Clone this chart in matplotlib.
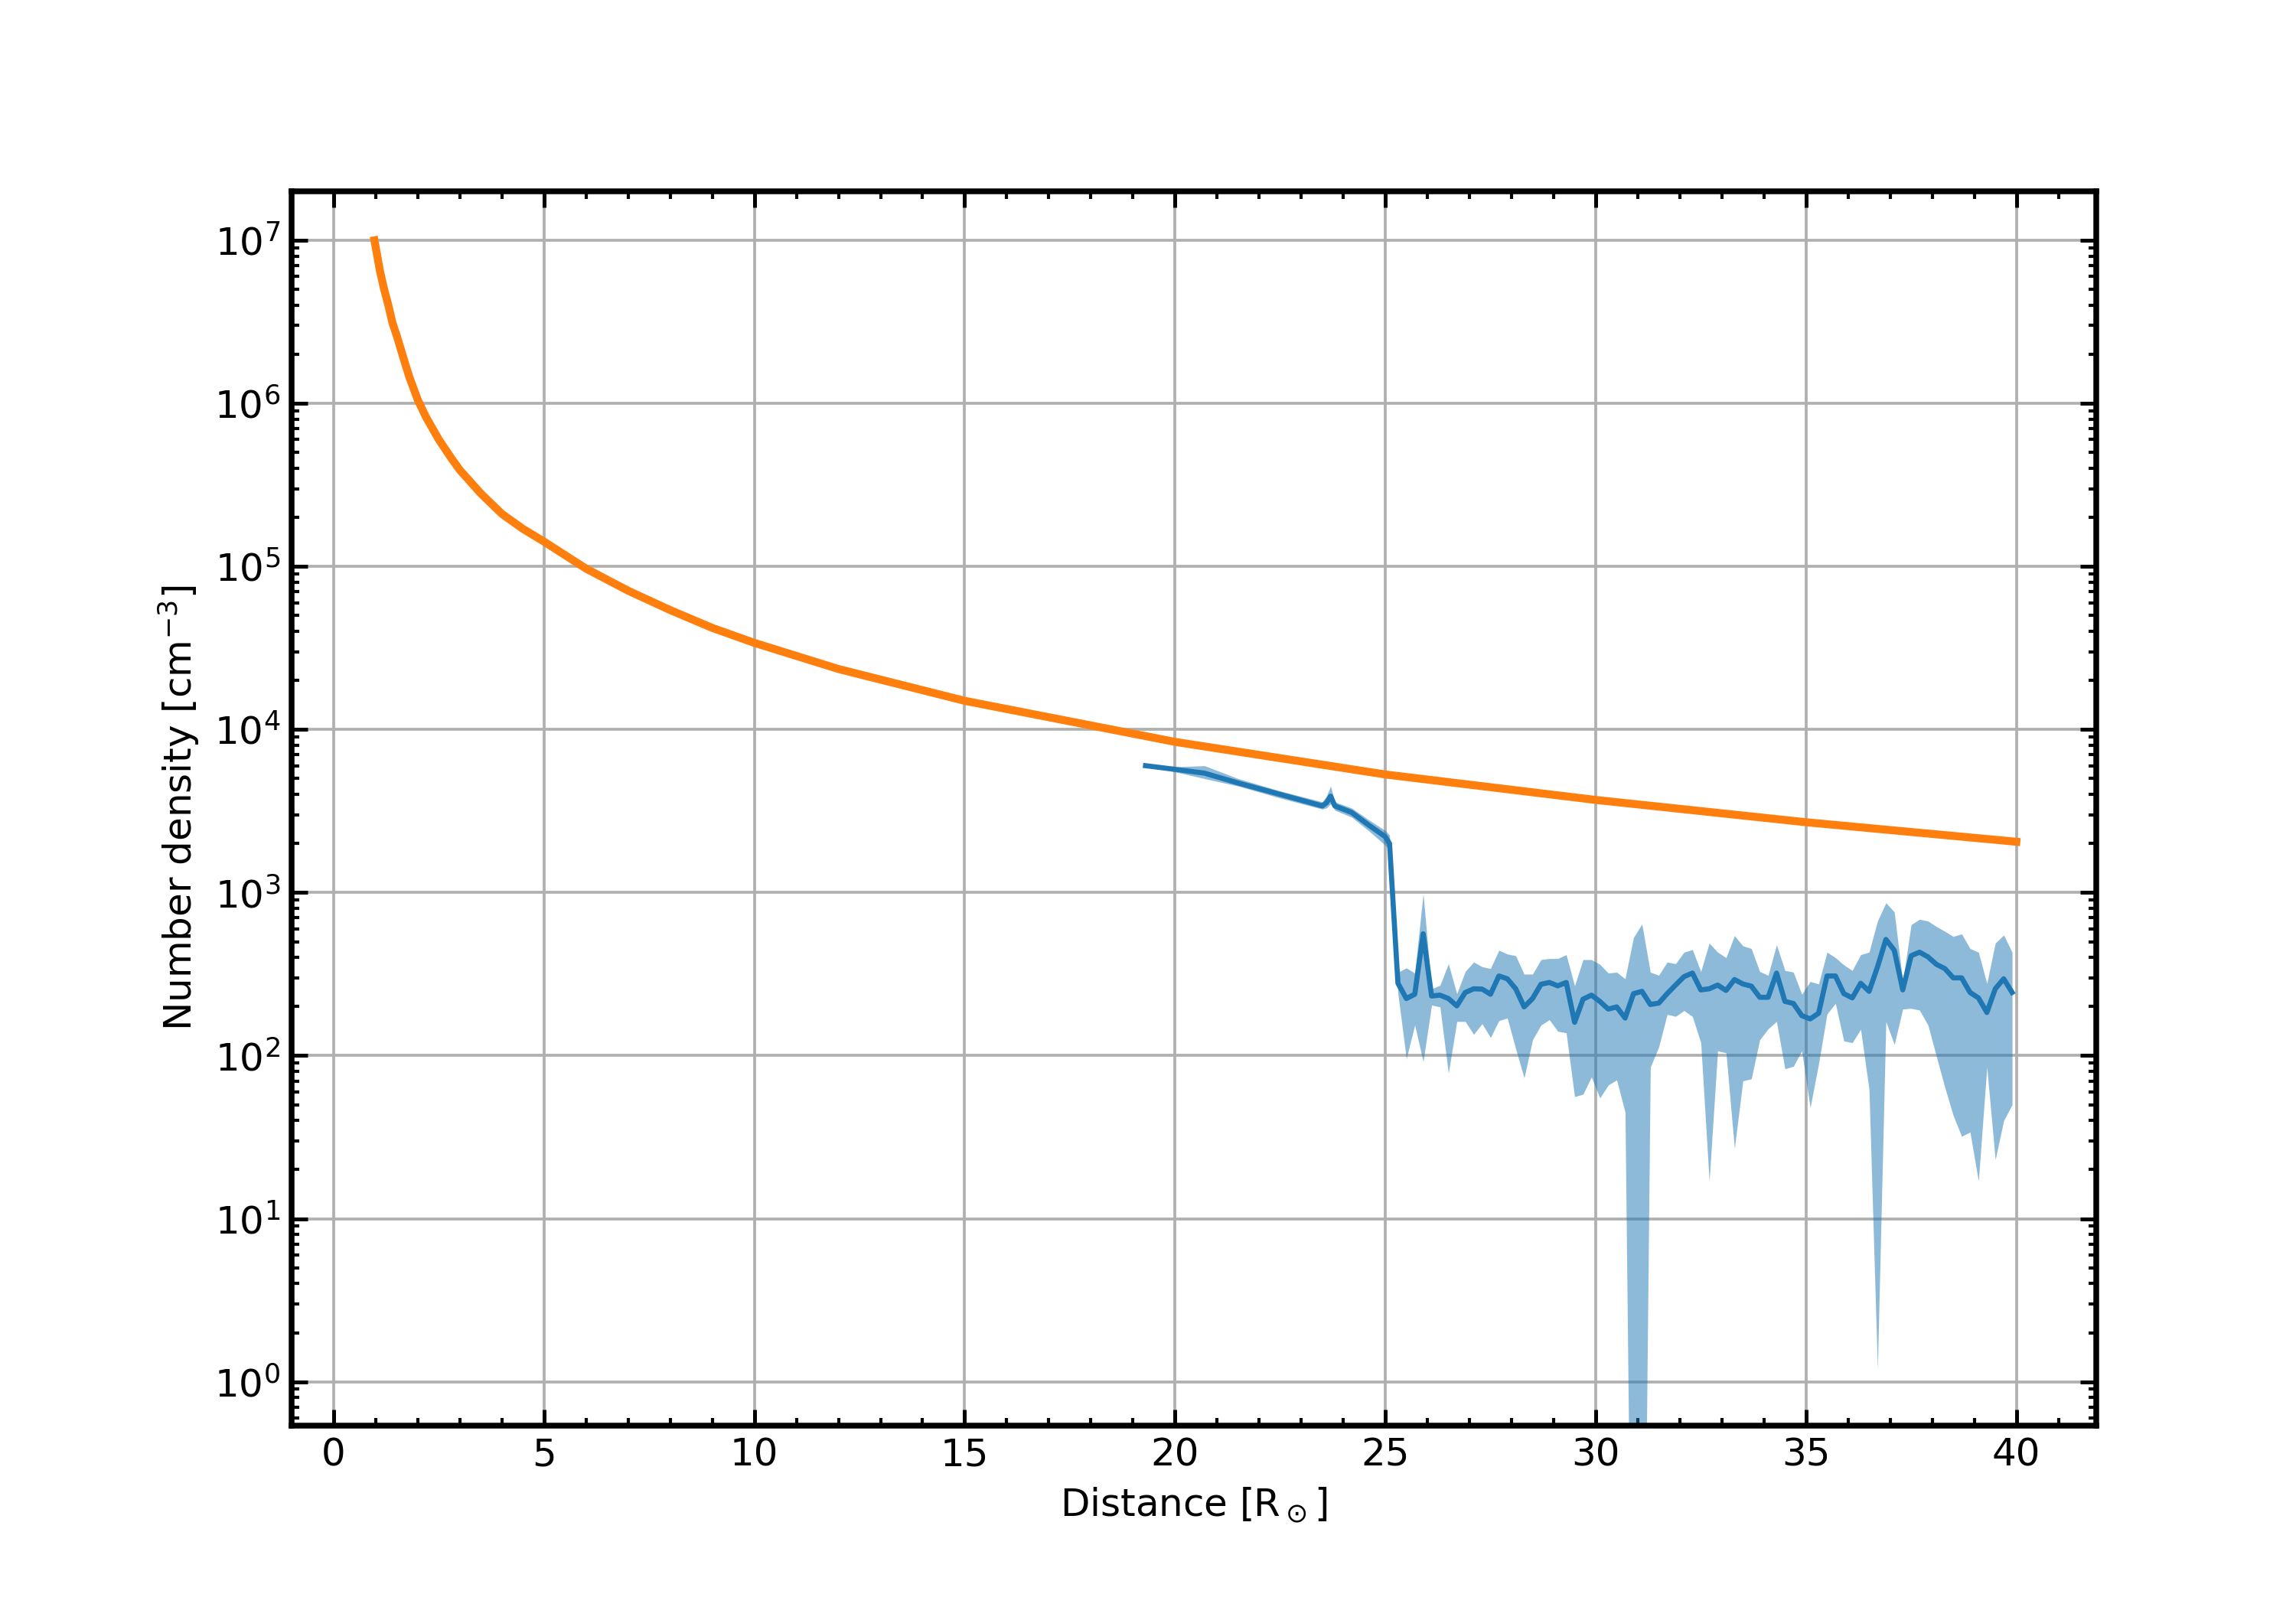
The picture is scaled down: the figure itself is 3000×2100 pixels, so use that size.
import numpy as np
import matplotlib
matplotlib.use("Agg")
import matplotlib.pyplot as plt

# Model curve (orange)
model_r = [0.97, 1.1, 1.2, 1.3, 1.4, 1.5, 1.7, 1.8, 2.0, 2.2, 2.5, 2.8, 3.0, 3.5, 4.0, 4.5, 5.0,
           6.0, 7.0, 8.0, 9.0, 10.0, 12.0, 15.0, 20.0, 25.0, 30.0, 35.0, 40.0]
model_n = [1e7, 6.5e6, 5e6, 4e6, 3.1e6, 2.6e6, 1.75e6, 1.45e6, 1.05e6, 8.2e5, 6e5, 4.6e5, 3.9e5,
           2.8e5, 2.1e5, 1.7e5, 1.42e5, 9.7e4, 7.1e4, 5.4e4, 4.2e4, 3.4e4, 2.35e4, 1.5e4,
           8.4e3, 5.3e3, 3.7e3, 2.7e3, 2.05e3]

# Measured density (blue): early segment
early_r = [19.3, 20.0, 20.7, 21.5, 22.5, 23.5, 23.6, 23.7, 23.8, 24.2, 24.6, 25.0, 25.1]
early_n = [6000, 5700, 5400, 4700, 4000, 3400, 3550, 3900, 3400, 3100, 2600, 2200, 2000]
early_hi = [6100, 5900, 6000, 5000, 4200, 3600, 3900, 4500, 3600, 3300, 2800, 2400, 2250]
early_lo = [5900, 5500, 5000, 4500, 3800, 3250, 3300, 3500, 3200, 2900, 2400, 1950, 1800]

late_r = [25.3, 25.5, 25.7, 25.9, 26.1, 26.3, 26.5, 26.7, 26.9, 27.1, 27.3, 27.5, 27.7, 27.9,
          28.1, 28.3, 28.5, 28.7, 28.9, 29.1, 29.3, 29.5, 29.7, 29.9, 30.1, 30.3, 30.5, 30.7,
          30.9, 31.1, 31.3, 31.5, 31.7, 31.9, 32.1, 32.3, 32.5, 32.7, 32.9, 33.1, 33.3, 33.5,
          33.7, 33.9, 34.1, 34.3, 34.5, 34.7, 34.9, 35.1, 35.3, 35.5, 35.7, 35.9, 36.1, 36.3,
          36.5, 36.7, 36.9, 37.1, 37.3, 37.5, 37.7, 37.9, 38.1, 38.3, 38.5, 38.7, 38.9, 39.1,
          39.3, 39.5, 39.7, 39.9]
late_n = [278, 224, 238, 559, 232, 235, 224, 202, 244, 257, 256, 238, 308, 296,
          257, 199, 224, 274, 281, 268, 281, 160, 222, 235, 215, 193, 199, 170,
          240, 248, 206, 210, 240, 271, 305, 321, 253, 257, 271, 251, 293, 275,
          267, 228, 228, 321, 215, 209, 176, 168, 182, 308, 308, 240, 226, 278,
          248, 350, 516, 442, 253, 410, 431, 403, 363, 342, 300, 300, 244, 226,
          184, 257, 296, 244]
late_hi = [325, 345, 321, 985, 257, 270, 366, 240, 328, 375, 351, 342, 443, 420,
           410, 316, 316, 388, 394, 394, 416, 268, 388, 388, 363, 321, 325, 296,
           530, 642, 325, 311, 375, 366, 431, 447, 328, 490, 431, 399, 544, 471,
           454, 328, 311, 478, 333, 325, 238, 285, 275, 431, 399, 360, 333, 416,
           431, 669, 866, 760, 285, 636, 686, 669, 619, 579, 538, 558, 454, 431,
           277, 490, 549, 431]
late_lo = [240, 96, 154, 92, 204, 199, 78, 162, 162, 135, 157, 129, 164, 170,
           110, 73, 125, 154, 166, 141, 138, 56, 58, 74, 55, 66, 71, 45,
           1e-3, 1e-3, 85, 113, 179, 174, 189, 174, 120, 17, 107, 104, 27, 70,
           72, 125, 146, 162, 83, 86, 107, 48, 89, 180, 209, 123, 120, 145,
           62, 1.2, 162, 117, 193, 195, 190, 154, 99, 64, 43, 32, 34, 17,
           85, 23, 40, 50]

r = early_r + late_r
n = early_n + late_n
hi = early_hi + late_hi
lo = early_lo + late_lo

plt.rcParams.update({"font.size": 12})
fig = plt.figure(figsize=(10, 7), dpi=300)
ax = fig.add_axes([0.127, 0.113, 0.786, 0.768])

ax.plot(model_r, model_n, color="#ff7f0e", lw=2.5, zorder=3)
ax.fill_between(r, lo, hi, color="#1f77b4", alpha=0.5, lw=0, zorder=2)
ax.plot(r, n, color="#1f77b4", lw=1.6, zorder=3)

ax.set_yscale("log")
ax.set_xlim(-1, 41.9)
ax.set_ylim(0.54, 2.0e7)
ax.set_xticks([0, 5, 10, 15, 20, 25, 30, 35, 40])
ax.set_yticks([1e0, 1e1, 1e2, 1e3, 1e4, 1e5, 1e6, 1e7])
ax.xaxis.set_minor_locator(matplotlib.ticker.MultipleLocator(1))
ax.grid(True, which="major", color="#b0b0b0", lw=0.9)
ax.tick_params(which="both", direction="in", top=True, right=True)
ax.tick_params(which="major", length=5, width=1.2)
ax.tick_params(which="minor", length=2.5, width=1)
for s in ax.spines.values():
    s.set_linewidth(1.8)
ax.set_xlabel(r"Distance [R$_\odot$]")
ax.set_ylabel(r"Number density [cm$^{-3}$]")
fig.savefig("out.png", dpi=300)
